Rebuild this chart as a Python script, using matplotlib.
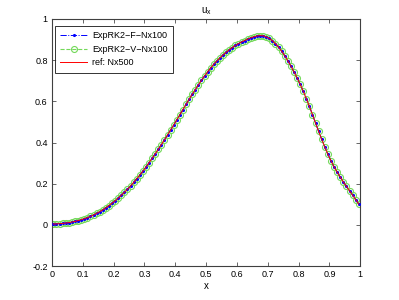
import numpy as np
import matplotlib
matplotlib.use("Agg")
import matplotlib.pyplot as plt

plt.rcParams['font.family'] = ['Liberation Sans', 'DejaVu Sans']

# grid (cell centres, Nx = 100)
x_nx100 = (np.arange(100) + 0.5) / 100.0

u_F = [0.004, 0.005, 0.006, 0.007, 0.009, 0.011, 0.014, 0.017, 0.021, 0.025,
       0.030, 0.035, 0.041, 0.048, 0.056, 0.064, 0.073, 0.083, 0.094, 0.105,
       0.117, 0.130, 0.144, 0.158, 0.173, 0.189, 0.206, 0.224, 0.242, 0.261,
       0.281, 0.302, 0.323, 0.345, 0.367, 0.390, 0.413, 0.437, 0.461, 0.485,
       0.510, 0.535, 0.560, 0.585, 0.610, 0.634, 0.657, 0.680, 0.702, 0.723,
       0.743, 0.762, 0.780, 0.796, 0.811, 0.825, 0.838, 0.850, 0.861, 0.871,
       0.880, 0.888, 0.895, 0.902, 0.908, 0.913, 0.917, 0.919, 0.918, 0.913,
       0.905, 0.894, 0.880, 0.863, 0.843, 0.821, 0.797, 0.771, 0.743, 0.714,
       0.683, 0.649, 0.613, 0.575, 0.535, 0.494, 0.454, 0.415, 0.378, 0.343,
       0.311, 0.282, 0.256, 0.232, 0.209, 0.187, 0.166, 0.145, 0.123, 0.101]
u_V = list(u_F)
u_ref = list(u_F)

labels = ['ExpRK2\u2212F\u2212Nx100', 'ExpRK2\u2212V\u2212Nx100', 'ref: Nx500']
x_ticks = [0, 0.1, 0.2, 0.3, 0.4, 0.5, 0.6, 0.7, 0.8, 0.9, 1]
y_ticks = [-0.2, 0, 0.2, 0.4, 0.6, 0.8, 1]

fig = plt.figure(figsize=(3.99, 3.0), dpi=100)
ax = fig.add_axes([0.13, 0.113, 0.773, 0.824])

ax.plot(x_nx100, u_F, color='blue', linestyle='-.', marker='.', markersize=2.5,
        linewidth=0.7, label=labels[0], zorder=3)
ax.plot(x_nx100, u_V, color=(0.45, 0.85, 0.35), linestyle='--', marker='o',
        markersize=4.3, markerfacecolor='none', markeredgewidth=0.8,
        linewidth=0.8, label=labels[1], zorder=2)
ax.plot(x_nx100, u_ref, color='red', linestyle='-', linewidth=0.7,
        label=labels[2], zorder=4)

ax.set_xlim(0, 1)
ax.set_ylim(-0.2, 1)
ax.set_xticks(x_ticks)
ax.set_yticks(y_ticks)
ax.set_xticklabels(['%g' % t for t in x_ticks])
ax.set_yticklabels(['%g' % t for t in y_ticks])
ax.tick_params(direction='in', top=True, right=True, labelsize=6.5,
               length=3, width=0.6, color='0.3', pad=3)
for s in ax.spines.values():
    s.set_linewidth(0.8)
    s.set_color('0.25')

ax.set_title(r'u$_{\mathregular{x}}$', fontsize=7, pad=4)
ax.set_xlabel('x', fontsize=7, labelpad=1)

leg = ax.legend(loc='upper left', bbox_to_anchor=(0.01, 0.972), fontsize=6.5,
                frameon=True, fancybox=False, edgecolor='black',
                handlelength=3.0, handletextpad=0.5, numpoints=1,
                borderpad=0.6, labelspacing=0.5, borderaxespad=0.0)
leg.get_frame().set_linewidth(0.7)

fig.savefig('out.png', dpi=100)
